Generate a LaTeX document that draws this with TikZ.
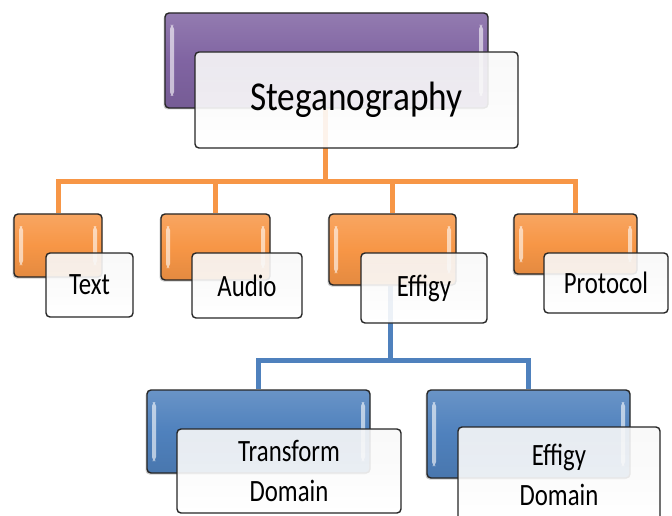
\documentclass[tikz,border=0pt]{standalone}
\usepackage{fontspec}
\setmainfont{Carlito}
\usetikzlibrary{shadows}
\definecolor{purp}{HTML}{8064A2}
\definecolor{orng}{HTML}{F79646}
\definecolor{blu}{HTML}{4F81BD}
\newcommand{\sq}[1]{\scalebox{0.8}[1]{#1}}
\pgfdeclarelayer{bg}
\pgfsetlayers{bg,main}
\tikzset{
  backbox/.style={rectangle, rounded corners=4pt, draw=black!85, line width=1.4pt,
    top color=#1!85!white, bottom color=#1!92!black, middle color=#1,
    drop shadow={shadow xshift=-1.5pt, shadow yshift=-1.5pt, opacity=0.4},
    path picture={
      \fill[white,opacity=0.6] ([shift={(5pt,-12pt)}]path picture bounding box.north west) rectangle ([shift={(9pt,12pt)}]path picture bounding box.south west);
      \fill[white,opacity=0.6] ([shift={(-9pt,-12pt)}]path picture bounding box.north east) rectangle ([shift={(-5pt,12pt)}]path picture bounding box.south east);
    }},
  frontbox/.style={rectangle, rounded corners=4pt, draw=black!85, line width=1.4pt,
    top color=black!3, bottom color=white, fill opacity=0.9, text opacity=1,
    font=\fontsize{31}{40}\selectfont, align=center, inner sep=0pt},
  oline/.style={draw=orng, line width=5pt},
  bline/.style={draw=blu, line width=5pt}
}
\begin{document}
\begin{tikzpicture}[x=1pt,y=1pt]
\useasboundingbox (0,0) rectangle (672,515);
% top level
\node[backbox=purp, minimum width=323pt, minimum height=95pt] (stegb) at (326.5,454.5) {};
\node[frontbox, minimum width=323pt, minimum height=96pt, font=\fontsize{41}{44}\selectfont] (steg) at (356.5,415) {\scalebox{0.86}[1]{Steganography}};
% second level
\node[backbox=orng, minimum width=88pt, minimum height=63pt] (textb) at (58,269.5) {};
\node[frontbox, minimum width=87pt, minimum height=64pt] (text) at (89.5,230) {\sq{Text}};
\node[backbox=orng, minimum width=109pt, minimum height=66pt] (audiob) at (215.5,268) {};
\node[frontbox, minimum width=110pt, minimum height=65pt] (audio) at (247,229.5) {\sq{Audio}};
\node[backbox=orng, minimum width=127pt, minimum height=71pt] (effb) at (392.5,265.5) {};
\node[frontbox, minimum width=126pt, minimum height=70pt] (eff) at (424,227) {\sq{Effigy}};
\node[backbox=orng, minimum width=123pt, minimum height=60pt] (protb) at (575.5,271) {};
\node[frontbox, minimum width=124pt, minimum height=60pt] (prot) at (606,232) {\sq{Protocol}};
% third level
\node[backbox=blu, minimum width=223pt, minimum height=83pt] (tdb) at (258.5,83.5) {};
\node[frontbox, minimum width=224pt, minimum height=84pt] (td) at (289,44) {\sq{Transform}\\\sq{Domain}};
\node[backbox=blu, minimum width=203pt, minimum height=88pt] (edb) at (528.5,81) {};
\node[frontbox, minimum width=202pt, minimum height=96pt] (ed) at (559,40) {\sq{Effigy}\\\sq{Domain}};
% connectors
\begin{pgfonlayer}{bg}
\coordinate (obus) at (325,333);
\draw[oline] (stegb.south -| obus) -- (obus);
\draw[oline] (textb.north) |- (obus);
\draw[oline] (audiob.north) |- (obus);
\draw[oline] (effb.north) |- (obus);
\draw[oline] (protb.north) |- (obus);
\coordinate (bbus) at (390,155);
\draw[bline] (effb.south -| bbus) -- (bbus);
\draw[bline] (tdb.north) |- (bbus);
\draw[bline] (edb.north) |- (bbus);
\end{pgfonlayer}
\end{tikzpicture}
\end{document}
